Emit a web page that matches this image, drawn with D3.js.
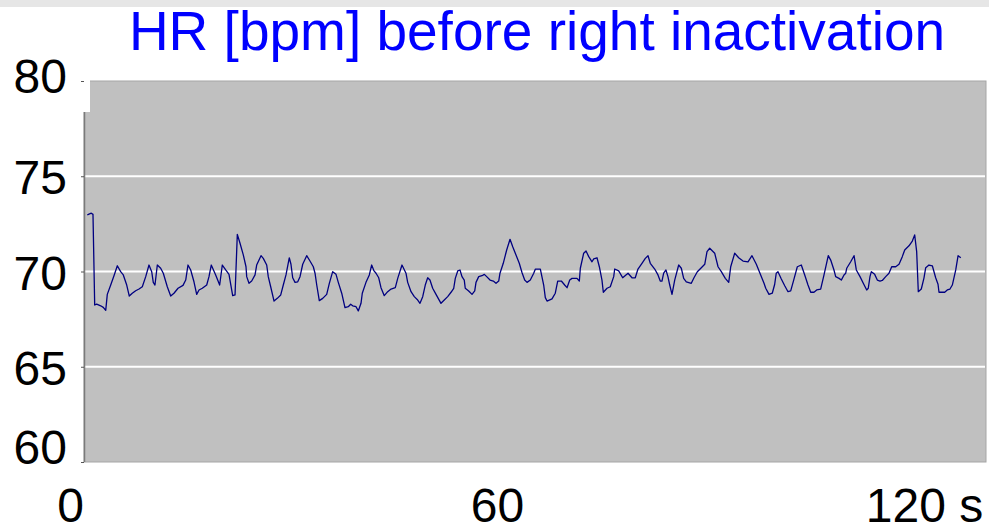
<!DOCTYPE html>
<html>
<head>
<meta charset="utf-8">
<script src="https://cdn.jsdelivr.net/npm/d3@7"></script>
<style>
  html, body { margin: 0; padding: 0; background: #ffffff; }
  svg { display: block; }
  text { font-family: "Liberation Sans", Arial, Helvetica, sans-serif; }
</style>
</head>
<body>
<svg id="chart" width="989" height="529"></svg>
<script>
// Heart rate recording, time in seconds and HR in beats per minute
const timeSec = [
  2.43, 2.99, 3.23, 3.47, 3.75, 4.31, 4.68, 5.02, 5.24, 5.72, 6.18, 6.65, 7.12, 7.49, 7.97, 8.33,
  8.75, 9.23, 9.70, 10.16, 10.64, 11.10, 11.48, 11.70, 11.94, 12.27, 12.74, 13.11, 13.67, 14.15,
  14.61, 15.18, 15.88, 16.26, 16.58, 16.96, 17.42, 17.80, 18.13, 18.59, 19.21, 19.53, 19.85, 20.47,
  21.03, 21.40, 21.88, 22.34,
  22.86, 23.19, 23.51, 23.89, 24.35, 24.73, 24.83, 25.15, 25.53, 26.00, 26.23, 26.84, 27.16, 27.64,
  27.86, 28.20, 28.67, 29.13, 29.61, 29.97, 30.35, 30.81, 31.05, 31.29, 31.62, 32.00, 32.32, 32.70,
  33.26, 33.72, 34.19, 34.43, 34.67, 35.03, 35.51, 36.07, 36.44, 36.91, 37.38, 37.70, 38.18, 38.64,
  39.10, 39.44, 39.72, 40.19, 40.51, 40.89, 41.07, 41.59, 42.06, 42.39, 42.72,
  43.00, 43.38, 43.70, 44.16, 44.64, 45.11, 45.71, 46.05, 46.65, 47.21, 47.45, 47.92, 48.38, 48.86,
  49.18, 49.56, 49.92, 50.26, 50.58, 50.96, 51.43, 52.13, 52.59, 53.07, 53.54, 53.92, 54.14, 54.48,
  54.80, 55.08, 55.40, 55.54, 56.02, 56.49, 56.87, 57.05, 57.43, 57.89, 58.22, 58.55, 59.02, 59.48,
  59.86, 60.24, 60.42, 60.88, 61.36, 61.83, 62.21, 62.67, 63.13, 63.51,
  63.89, 64.22, 64.68, 65.16, 65.38, 66.09, 66.56, 66.79, 67.03, 67.73, 68.19, 68.53, 69.04, 69.51,
  69.84, 70.22, 70.54, 71.24, 71.57, 71.71, 72.18, 72.51, 72.89, 73.35, 73.59, 74.05, 74.38, 74.75,
  74.94, 75.46, 75.92, 76.40, 76.54, 77.10, 77.66, 78.41, 78.97, 79.43, 79.81, 80.37, 80.84, 81.22,
  81.54, 82.16, 82.62, 82.94, 83.18, 83.42, 83.74, 84.02,
  84.27, 84.59, 84.97, 85.53, 85.90, 86.23, 86.60, 87.30, 87.68, 88.15, 88.71, 89.19, 89.51, 89.89,
  90.59, 91.06, 91.52, 92.08, 92.56, 92.84, 93.40, 93.96, 94.57, 95.27, 95.83, 96.44, 97.05, 97.52,
  97.76, 98.22, 98.68, 99.02, 99.24, 99.48, 99.95, 100.43, 100.89, 101.27, 101.69, 102.20, 102.76,
  103.24, 103.70, 104.08, 104.54,
  104.92, 105.48, 105.95, 106.55, 106.89, 107.35, 107.59, 108.06, 108.38, 108.76, 109.00, 109.14,
  109.70, 110.17, 110.49, 111.01, 111.47, 111.95, 112.17, 112.41, 112.60, 113.07, 113.44, 113.82,
  114.14, 114.62, 115.08, 115.46, 116.02, 116.49, 116.95, 117.29, 117.89, 118.36, 118.69, 118.97,
  119.20, 119.62, 120.00, 120.24, 120.70, 121.17, 121.64, 121.97, 122.11, 122.91, 123.27, 123.65,
  123.98, 124.46, 124.79, 125.17
];

const heartRate = [
  72.97, 73.06, 73.00, 68.24, 68.29, 68.20, 68.12, 67.96, 68.80, 69.29, 69.78, 70.30, 69.99, 69.82, 69.29, 68.71,
  68.86, 68.99, 69.08, 69.20, 69.73, 70.34, 69.99, 69.43, 69.29, 70.34, 70.17, 69.91, 69.20, 68.71,
  68.86, 69.12, 69.27, 69.55, 70.34, 70.08, 69.46, 68.80, 69.03, 69.12, 69.29, 69.73, 70.34, 69.82,
  69.29, 70.34, 70.08, 69.85,
  68.73, 68.77, 71.95, 71.48, 70.87, 70.25, 69.73, 69.38, 69.50, 69.82, 70.34, 70.83, 70.69, 70.34,
  69.73, 69.20, 68.45, 68.59, 68.77, 69.29, 69.82, 70.72, 70.38, 69.67, 69.43, 69.46, 69.73, 70.38,
  70.83, 70.55, 70.25, 69.91, 69.29, 68.47, 68.59, 68.80, 69.38, 69.99, 69.85, 69.43, 68.86, 68.10,
  68.15, 68.28, 68.20, 68.15, 67.93, 68.33, 68.86, 69.43, 69.82, 70.34, 70.03,
  69.91, 69.67, 69.15, 68.73, 68.94, 69.08, 69.15, 69.64, 70.34, 69.91, 69.43, 68.94, 68.68, 68.50,
  68.33, 68.68, 69.29, 69.67, 69.55, 69.12, 68.80, 68.33, 68.50, 68.68, 68.91, 69.12, 69.64, 70.03,
  70.08, 69.73, 69.55, 69.12, 68.98, 68.80, 68.98, 69.43, 69.73, 69.78, 69.85, 69.73, 69.55, 69.50,
  69.38, 69.50, 69.91, 70.43, 71.13, 71.69, 71.30, 70.87, 70.43, 69.95,
  69.55, 69.43, 69.55, 69.91, 70.12, 70.12, 69.29, 68.63, 68.45, 68.56, 68.86, 69.50, 69.50, 69.29,
  69.15, 69.55, 69.64, 69.64, 69.50, 70.17, 70.96, 71.08, 70.78, 70.51, 70.66, 70.72, 70.25, 69.55,
  68.91, 69.12, 69.20, 69.73, 70.13, 70.03, 69.67, 69.91, 69.67, 69.67, 70.13, 70.43, 70.69, 70.83,
  70.43, 70.13, 69.82, 69.50, 69.50, 69.91, 70.08, 69.73,
  69.29, 68.80, 69.55, 70.34, 70.17, 69.64, 69.46, 69.38, 69.67, 69.99, 70.20, 70.38, 71.04, 71.22,
  70.96, 70.25, 69.99, 69.64, 69.43, 70.25, 70.96, 70.72, 70.55, 70.51, 70.83, 70.38, 69.82, 69.38,
  69.12, 68.80, 68.86, 69.33, 69.91, 69.99, 69.61, 69.25, 68.94, 68.98, 69.55, 70.25, 70.34,
  69.82, 69.29, 68.91, 68.91,
  69.03, 69.08, 69.82, 70.83, 70.60, 70.08, 69.73, 69.64, 69.55, 69.82, 69.91, 70.17,
  70.51, 70.83, 70.08, 69.73, 69.38, 69.03, 69.12, 69.73, 69.99, 69.85, 69.55, 69.50,
  69.53, 69.73, 69.91, 70.25, 70.25, 70.38, 70.78, 71.13, 71.35, 71.60, 71.92, 71.04,
  68.94, 69.08, 69.67, 70.20, 70.34, 70.30, 69.67, 69.33, 68.91, 68.91, 69.03, 69.08,
  69.29, 70.08, 70.83, 70.72
];

const yTicks = [60, 65, 70, 75, 80];
const yGrid = [65, 70, 75];
const xTicks = [0, 60, 120];
const titleText = "HR [bpm] before right inactivation";

const svg = d3.select("#chart");
const W = 989, H = 529;

// frame of the plotting area
const frame = { left: 84, right: 986, top: 81, bottom: 462 };

const x = d3.scaleLinear().domain([0, 120]).range([70, 924]);
const y = d3.scaleLinear().domain([60, 80]).range([frame.bottom, frame.top]);

// light strip along the top edge
svg.append("rect").attr("x", 0).attr("y", 0).attr("width", W).attr("height", 7)
  .attr("fill", "#e6e6e6");

// plot background
svg.append("rect")
  .attr("x", frame.left).attr("y", frame.top)
  .attr("width", frame.right - frame.left).attr("height", frame.bottom - frame.top)
  .attr("fill", "#c0c0c0").attr("stroke", "#a6a6a6").attr("stroke-width", 1);

// white gap at the top of the value axis
svg.append("rect").attr("x", frame.left - 2).attr("y", frame.top - 1)
  .attr("width", 8).attr("height", 32).attr("fill", "#ffffff");

// gridlines
svg.append("g").selectAll("line").data(yGrid).join("line")
  .attr("x1", frame.left).attr("x2", frame.right - 1)
  .attr("y1", d => y(d)).attr("y2", d => y(d))
  .attr("stroke", "#ffffff").attr("stroke-width", 2);

// value axis line
svg.append("line")
  .attr("x1", frame.left + 0.5).attr("x2", frame.left + 0.5)
  .attr("y1", frame.top + 31).attr("y2", frame.bottom)
  .attr("stroke", "#7a7a7a").attr("stroke-width", 1.5);

// value axis ticks and labels; the end labels sit slightly inside the range
const labelShift = { 80: 11, 60: 1.5 };
const yAxis = d3.axisLeft(y).tickValues(yTicks).tickSize(3).tickPadding(14).tickFormat(d3.format("d"));
const gy = svg.append("g").attr("transform", `translate(${frame.left},0)`).call(yAxis);
gy.select(".domain").remove();
gy.selectAll(".tick line").attr("stroke", "#555555");
gy.selectAll(".tick text")
  .attr("font-size", 48).attr("fill", "#000000")
  .attr("font-family", "'Liberation Sans', Arial, sans-serif")
  .attr("dy", d => (d in labelShift ? labelShift[d] : 17.5) + "px");

// time axis labels
const xAxis = d3.axisBottom(x).tickValues(xTicks).tickSize(0).tickPadding(0)
  .tickFormat(d => d === 120 ? "120 s" : String(d));
const gx = svg.append("g").attr("transform", "translate(0,488)").call(xAxis);
gx.select(".domain").remove();
gx.selectAll(".tick text")
  .attr("font-size", 48).attr("fill", "#000000")
  .attr("font-family", "'Liberation Sans', Arial, sans-serif");

// HR trace
const series = timeSec.map((t, i) => ({ t, v: heartRate[i] }));
const line = d3.line().x(d => x(d.t)).y(d => y(d.v));
svg.append("path").datum(series)
  .attr("d", line)
  .attr("fill", "none")
  .attr("stroke", "#000080")
  .attr("stroke-width", 1.3)
  .attr("stroke-linejoin", "round");

// title
svg.append("text")
  .attr("x", 537).attr("y", 50)
  .attr("text-anchor", "middle")
  .attr("font-size", 55)
  .attr("fill", "#0000ff")
  .text(titleText);
</script>
</body>
</html>
